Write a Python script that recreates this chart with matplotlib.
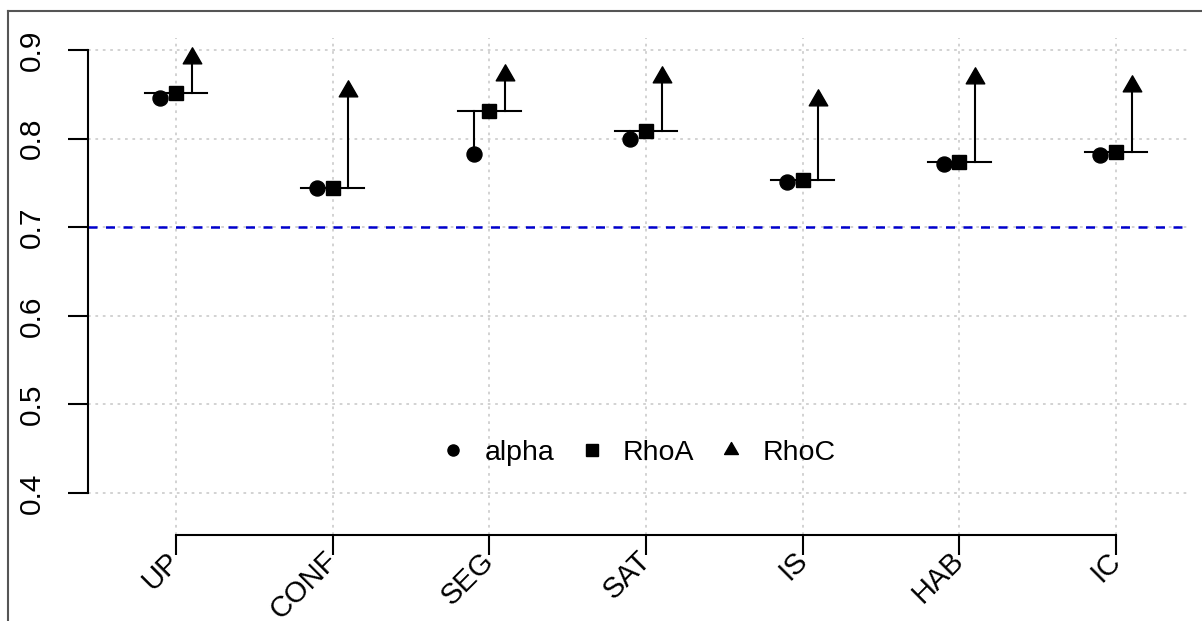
import matplotlib
matplotlib.use("Agg")
import matplotlib.pyplot as plt
from matplotlib.path import Path
from matplotlib.lines import Line2D
import numpy as np

# Reliability values per dimension
categories = ["UP", "CONF", "SEG", "SAT", "IS", "HAB", "IC"]
alpha = [0.846, 0.744, 0.783, 0.800, 0.751, 0.771, 0.781]
rho_a = [0.851, 0.744, 0.831, 0.808, 0.753, 0.773, 0.785]
rho_c = [0.891, 0.854, 0.872, 0.870, 0.843, 0.868, 0.859]
y_ticks = [0.4, 0.5, 0.6, 0.7, 0.8, 0.9]
threshold = 0.7

plt.rcParams["font.family"] = ["Liberation Sans", "DejaVu Sans"]

# R style triangle (pch 17): centroid at the data point
tri = Path([(0, 1), (-0.866, -0.5), (0.866, -0.5), (0, 1)],
           [Path.MOVETO, Path.LINETO, Path.LINETO, Path.CLOSEPOLY])

fig = plt.figure(figsize=(12.02, 6.21), dpi=100)
ax = fig.add_axes([88 / 1202, 1 - 535 / 621, (1187 - 88) / 1202, (535 - 38) / 621])

x = np.arange(1, len(categories) + 1)

# dotted grid
grid_kw = dict(color="#cfcfcf", lw=1.3, linestyle=(0, (1.5, 2.6)), zorder=0)
for yt in y_ticks:
    ax.axhline(yt, **grid_kw)
for xi in x:
    ax.axvline(xi, **grid_kw)

ax.axhline(threshold, color="#0000CD", lw=1.8, linestyle=(0, (3.6, 3.4)), zorder=1)

for xi, a, ra, rc in zip(x, alpha, rho_a, rho_c):
    ax.plot([xi - 0.2, xi + 0.2], [ra, ra], color="black", lw=1.5, zorder=2)
    ax.plot([xi + 0.1, xi + 0.1], [ra, rc], color="black", lw=1.5, zorder=2)
    ax.plot([xi - 0.1, xi - 0.1], [a, ra], color="black", lw=1.5, zorder=2)

ax.plot(x - 0.1, alpha, "o", color="black", ms=10.8, ls="none", zorder=3)
ax.plot(x, rho_a, "s", color="black", ms=10.5, ls="none", zorder=3)
ax.plot(x + 0.1, rho_c, marker=tri, color="black", ms=15.4, ls="none", zorder=3)

ax.set_xlim(0.438, 7.453)
ax.set_ylim(0.3526, 0.9135)

for side in ["top", "right"]:
    ax.spines[side].set_visible(False)
ax.spines["left"].set_bounds(0.4, 0.9)
ax.spines["bottom"].set_bounds(1, 7)
ax.spines["left"].set_linewidth(1.5)
ax.spines["bottom"].set_linewidth(1.5)

ax.set_yticks(y_ticks)
ax.set_yticklabels([f"{v:.1f}" for v in y_ticks], rotation=90, va="center")
ax.set_xticks(x)
ax.set_xticklabels(categories, rotation=45, ha="right", va="center",
                   rotation_mode="anchor")
ax.tick_params(axis="both", length=14.4, width=1.5, labelsize=21.5)
ax.tick_params(axis="y", pad=16)
ax.tick_params(axis="x", labelsize=21, pad=1)

handles = [
    Line2D([], [], marker="o", color="black", ls="none", ms=8),
    Line2D([], [], marker="s", color="black", ls="none", ms=8),
    Line2D([], [], marker=tri, color="black", ls="none", ms=11.5),
]
ax.legend(handles, ["alpha", "RhoA", "RhoC"], loc="center", ncol=3,
          bbox_to_anchor=(0.5, 0.165), frameon=False, fontsize=20.5,
          handlelength=1.0, handletextpad=0.6, columnspacing=0.8)

# outer frame
fig.add_artist(Line2D([8 / 1202, 8 / 1202], [0, 1 - 11 / 621],
                      transform=fig.transFigure, color="#555555", lw=1.5))
fig.add_artist(Line2D([8 / 1202, 1], [1 - 11 / 621, 1 - 11 / 621],
                      transform=fig.transFigure, color="#555555", lw=1.5))

fig.savefig("out.png", dpi=100)
